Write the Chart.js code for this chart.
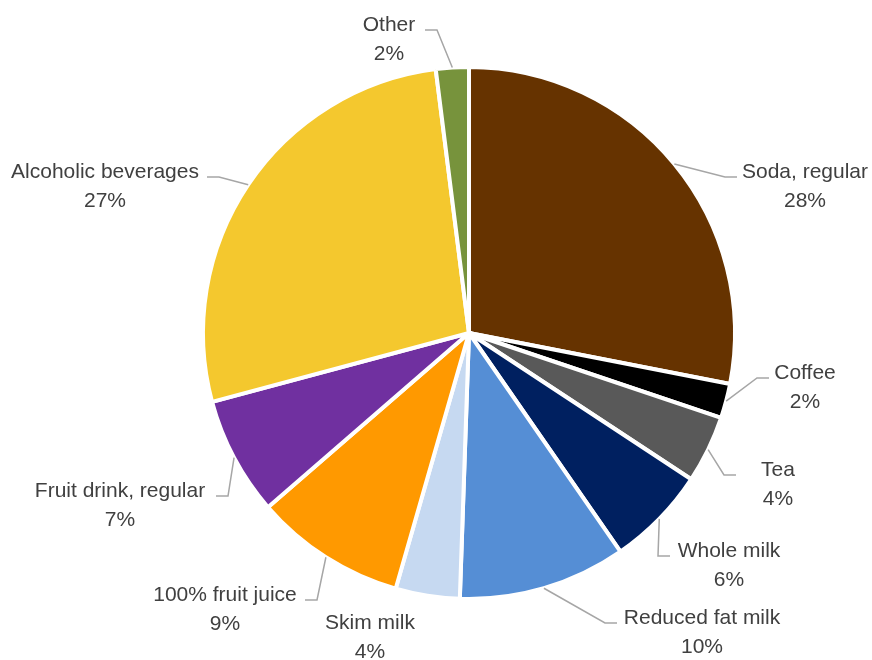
<!DOCTYPE html>
<html>
<head>
<meta charset="utf-8">
<script src="https://cdn.jsdelivr.net/npm/chart.js@4/dist/chart.umd.min.js"></script>
<style>
  html, body { margin: 0; padding: 0; background: #fff; }
  #wrap { width: 872px; height: 660px; position: relative; }
</style>
</head>
<body>
<div id="wrap"><canvas id="pie"></canvas></div>
<script>
const categories = ["Soda, regular", "Coffee", "Tea", "Whole milk", "Reduced fat milk", "Skim milk", "100% fruit juice", "Fruit drink, regular", "Alcoholic beverages", "Other"];
const shares = [28.1, 2.1, 4.1, 6.1, 10.2, 3.9, 9.2, 7.2, 27.2, 2.0];
const colors = ["#663300", "#000000", "#595959", "#002060", "#558ED5", "#C6D9F1", "#FF9900", "#7030A0", "#F4C82E", "#77933C"];

// label layout: first line centre x, y and where the leader's flat part ends (null = no leader)
const labelSpots = [
  [805, 170, 737], [805, 371, 769], [778, 468, 736], [729, 549, 670], [702, 616, 617],
  [370, 621, null], [225, 593, 305], [120, 489, 216], [105, 170, 207], [389, 23, 425],
];

const sliceLabels = {
  id: "sliceLabels",
  afterDatasetsDraw(chart) {
    const ctx = chart.ctx;
    const arcs = chart.getDatasetMeta(0).data;
    ctx.save();
    ctx.font = "21px 'Liberation Sans', Arial, sans-serif";
    ctx.textAlign = "center";
    ctx.textBaseline = "alphabetic";
    arcs.forEach((arc, i) => {
      const [lx, ly, hx] = labelSpots[i];
      if (hx !== null) {
        const mid = (arc.startAngle + arc.endAngle) / 2;
        const r = arc.outerRadius;
        const sx = arc.x + Math.cos(mid) * r;
        const sy = arc.y + Math.sin(mid) * r;
        const hy = ly + 7;
        const ex = hx + (hx > arc.x ? -12 : 12);
        ctx.strokeStyle = "#A6A6A6";
        ctx.lineWidth = 1.5;
        ctx.beginPath();
        ctx.moveTo(sx, sy);
        ctx.lineTo(ex, hy);
        ctx.lineTo(hx, hy);
        ctx.stroke();
      }
      ctx.fillStyle = "#404040";
      ctx.fillText(categories[i], lx, ly + 7.5);
      ctx.fillText(Math.round(shares[i]) + "%", lx, ly + 36.5);
    });
    ctx.restore();
  },
};

new Chart(document.getElementById("pie"), {
  type: "pie",
  data: {
    labels: categories,
    datasets: [{ data: shares, backgroundColor: colors, borderColor: "#ffffff", borderWidth: 4, radius: 266 }],
  },
  options: {
    responsive: true,
    maintainAspectRatio: false,
    animation: false,
    layout: { padding: { left: 66, right: 0, top: 6, bottom: 0 } },
    plugins: { legend: { display: false }, tooltip: { enabled: false } },
  },
  plugins: [sliceLabels],
});
</script>
</body>
</html>
